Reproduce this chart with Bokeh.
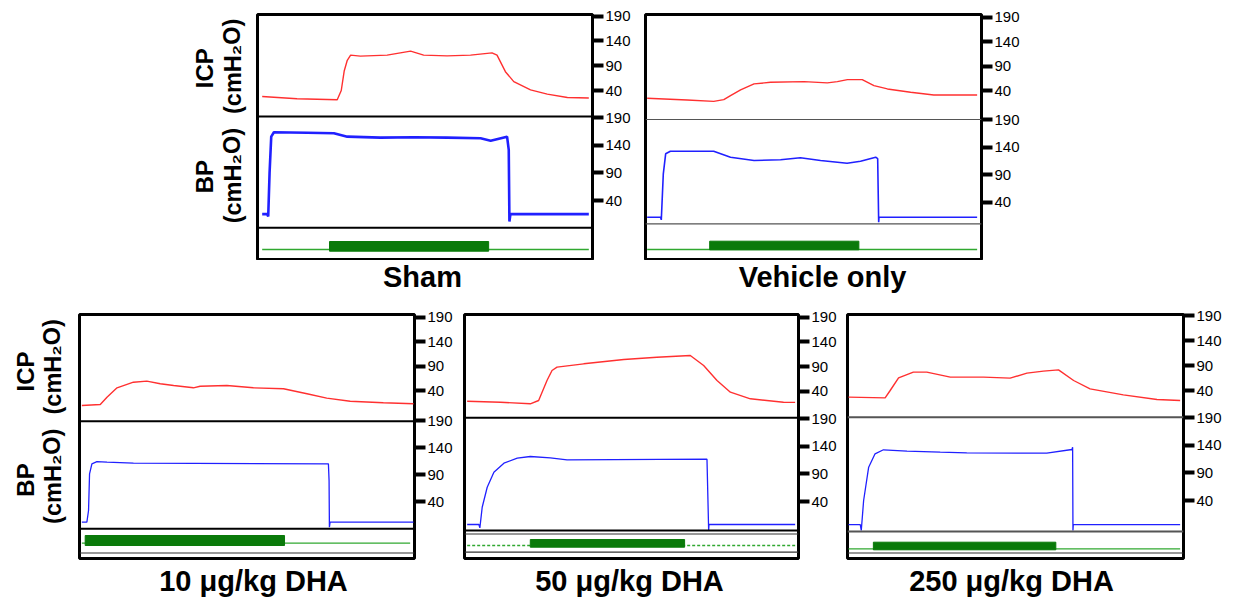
from bokeh.layouts import column, row
from bokeh.models import FixedTicker, LinearAxis, Range1d, Spacer, Span
from bokeh.core.properties import value
from bokeh.plotting import figure
from bokeh.embed import file_html
from bokeh.resources import INLINE

FONT = "Liberation Sans"
TICK_VALUES = [40, 90, 140, 190]
TITLES = ["Sham", "Vehicle only", "10 μg/kg DHA", "50 μg/kg DHA", "250 μg/kg DHA"]
YLABELS = ["ICP", "(cmH₂O)", "BP", "(cmH₂O)"]

# ---------------- data (time in % of recording, pressures in cmH2O) ----------------
sham_icp_t = [1.4, 11.8, 23.8, 25.0, 25.9, 26.8, 27.8, 30.7, 38.7, 45.7, 49.6, 56.6, 63.6, 70.0, 71.5, 74.0, 76.5, 81.5, 86.5, 92.5, 98.9]
sham_icp_v = [28, 23.4, 21.4, 40, 80, 101, 111.4, 109.4, 111.4, 119.4, 111.4, 110, 111.4, 116, 111.4, 78, 58, 41.4, 32.8, 26, 24.8]
sham_bp_t = [1.4, 2.9, 3.2, 3.6, 4.1, 4.9, 14.8, 22.8, 26.8, 36.7, 46.7, 56.6, 66.6, 69.6, 74.5, 75.0, 75.2, 75.5, 98.9]
sham_bp_v = [15.3, 15.3, 11, 89.5, 155.8, 163.8, 163, 162, 155.8, 154, 154.7, 154, 152.9, 148.5, 155.8, 131.7, 2, 15.3, 15.3]

veh_icp_t = [0.5, 12.4, 20.3, 23.3, 25.3, 28.3, 32.3, 37.2, 47.2, 54.1, 57.1, 60.1, 64.5, 68.0, 72.0, 78.9, 85.8, 98.7]
veh_icp_v = [24, 20.7, 17.8, 21.3, 29.5, 41.2, 53.5, 56.8, 58.2, 55.5, 58.2, 62.3, 62.3, 50, 43.2, 36.3, 30.9, 30.9]
veh_bp_t = [0.5, 4.5, 4.7, 5.3, 6.0, 7.4, 20.3, 25.3, 32.3, 40.2, 46.1, 52.1, 60.0, 64.0, 68.5, 69.1, 69.4, 69.5, 98.7]
veh_bp_v = [12.8, 12.8, 8, 91.5, 127.8, 132.5, 132.5, 121.6, 115.6, 116.9, 120.5, 115.6, 110.7, 114.4, 121.6, 119, 3.7, 12.8, 12.8]

d10_icp_t = [0.7, 6.2, 8.2, 11.2, 16.1, 20.1, 24.1, 28.1, 34.0, 36.0, 44.0, 51.9, 60.9, 67.9, 73.8, 80.8, 90.7, 99.7]
d10_icp_v = [9.3, 11.4, 26.3, 45.5, 57, 59.1, 53.7, 50.3, 45.5, 48.8, 50.3, 45.5, 43.5, 33.3, 24.3, 18.1, 14.9, 12.8]
d10_bp_t = [0.7, 2.2, 2.7, 3.0, 3.7, 5.2, 8.2, 16.1, 74.3, 74.5, 74.6, 74.8, 99.7]
d10_bp_v = [1.7, 1.7, 23.3, 91.3, 109.8, 114, 112.8, 110.9, 109.8, 78.9, -7.6, 1.7, 1.7]

d50_icp_t = [0.8, 10.8, 19.7, 22.2, 24.7, 26.2, 27.7, 35.7, 47.7, 57.6, 67.6, 71.6, 75.6, 79.6, 85.6, 95.5, 99.0]
d50_icp_v = [19.7, 17.7, 14.5, 21.2, 61.7, 82, 88.7, 95.5, 104.3, 108.9, 112.4, 92.1, 61.7, 38, 24.6, 17.7, 17.3]
d50_bp_t = [0.8, 4.3, 4.6, 5.3, 6.8, 8.8, 11.8, 15.8, 19.7, 25.7, 30.7, 72.6, 73.1, 73.2, 99.0]
d50_bp_v = [-1.7, -1.7, -7.8, 29.6, 65.9, 93.1, 109.5, 118.5, 121.6, 119.3, 115.6, 116.7, -12.6, -1.7, -1.7]

d250_icp_t = [0.3, 11.2, 12.7, 15.2, 19.6, 23.6, 30.6, 40.5, 48.4, 53.4, 58.3, 62.8, 67.3, 72.2, 82.1, 92.1, 99.0]
d250_icp_v = [26.7, 25.3, 40, 65.3, 76.7, 76.7, 66.7, 66.7, 64.7, 74.7, 78.7, 81.3, 60, 43.3, 31.3, 22, 20]
d250_bp_t = [0.3, 3.8, 4.1, 4.8, 6.3, 8.2, 10.7, 17.7, 27.6, 35.5, 51.4, 59.3, 66.8, 67.0, 67.1, 67.2, 99.0]
d250_bp_v = [-3.6, -3.6, -14.4, 40, 100.4, 124.7, 132, 129.4, 127.6, 126.5, 125.8, 125.8, 132.5, 136.7, -14.4, -3.6, -3.6]

# stimulation: on, off (time), band low / high (a.u. relative to baseline), baseline start / end
stim_on = [21.5, 19.1, 1.7, 19.7, 7.7]
stim_off = [69.0, 63.5, 61.2, 65.9, 62.0]
stim_lo = [-1.7, -0.3, -2.3, -1.7, -1.0]
stim_hi = [8.0, 8.3, 7.7, 6.0, 6.6]
base_t0 = [1.4, 0.5, 0.7, 0.8, 0.3]
base_t1 = [98.9, 98.7, 98.7, 99.0, 99.0]

ICP_T = [sham_icp_t, veh_icp_t, d10_icp_t, d50_icp_t, d250_icp_t]
ICP_V = [sham_icp_v, veh_icp_v, d10_icp_v, d50_icp_v, d250_icp_v]
BP_T = [sham_bp_t, veh_bp_t, d10_bp_t, d50_bp_t, d250_bp_t]
BP_V = [sham_bp_v, veh_bp_v, d10_bp_v, d50_bp_v, d250_bp_v]

# ---------------- layout geometry (page pixels) ----------------
GEOM = [
    dict(L=257, R=592, T=14, B=259, bl=7, br=42, bt=14, bb=1, icp190=15.7, icp40=90.0, bp190=117.3, bp40=200.0,
         div=[116, 227.3], div_color="black", div_w=2, gbase=249, extra=[], bp_w=2.6, base_dash="solid"),
    dict(L=645, R=981, T=14, B=259, bl=11, br=42, bt=14, bb=1, icp190=16.7, icp40=90.0, bp190=119.0, bp40=201.7,
         div=[119, 223.3], div_color="#555555", div_w=1.2, gbase=249, extra=[], bp_w=1.6, base_dash="solid"),
    dict(L=79, R=414, T=314, B=558, bl=8, br=42, bt=14, bb=3, icp190=316.7, icp40=390.0, bp190=420.0, bp40=501.0,
         div=[420.7, 528.3], div_color="black", div_w=2, gbase=542.7, extra=[552.5], bp_w=1.3, base_dash="solid"),
    dict(L=464, R=798, T=314, B=558, bl=8, br=42, bt=14, bb=3, icp190=316.7, icp40=390.7, bp190=418.3, bp40=501.0,
         div=[417.3, 530], div_color="black", div_w=2, gbase=545, extra=[533.5, 551.7], bp_w=1.3, base_dash="3 2"),
    dict(L=847, R=1183, T=314, B=558, bl=7, br=42, bt=14, bb=3, icp190=315.0, icp40=390.0, bp190=417.3, bp40=500.0,
         div=[416.7, 531], div_color="#555555", div_w=2, gbase=548.3, extra=[552.5], bp_w=1.3, base_dash="solid"),
]
# title text anchors (page px, includes the renderer's ~11px baseline drop)
TITLE_X = [422, 822, 253, 629, 1011]
TITLE_Y = [276, 276, 580, 580, 580]
# y-label anchors (page px) for the two labelled rows
YLAB_X = [[204, 232, 204, 232], [25, 52, 25, 52]]
YLAB_Y = [[57, 55, 172, 171], [361, 356, 477, 473]]
YLAB_SIZE = ["24px", "23.5px", "24px", "23.5px"]


def scale_range(y190, y40, T, B):
    s = 150.0 / (y40 - y190)
    return 190 - s * (B - y190), 190 + s * (y190 - T)


def build(i):
    g = GEOM[i]
    fw, fh = g["R"] - g["L"], g["B"] - g["T"]
    icp_lo, icp_hi = scale_range(g["icp190"], g["icp40"], g["T"], g["B"])
    bp_lo, bp_hi = scale_range(g["bp190"], g["bp40"], g["T"], g["B"])
    p = figure(title=None, title_location=None, width=g["bl"] + fw + g["br"], height=g["bt"] + fh + g["bb"],
               output_backend="svg", toolbar_location=None, x_range=Range1d(0, 100),
               y_range=Range1d(icp_lo, icp_hi), x_axis_location=None, y_axis_location=None,
               min_border_left=g["bl"], min_border_right=g["br"], min_border_top=g["bt"], min_border_bottom=g["bb"])
    p.grid.visible = False
    p.outline_line_color = "black"
    p.outline_line_width = 3
    p.extra_y_ranges = {
        "bp": Range1d(bp_lo, bp_hi),
        "px": Range1d(g["B"], g["T"]),
        "stim": Range1d(g["gbase"] - g["B"], g["gbase"] - g["T"]),
    }
    for d in g["div"]:
        p.add_layout(Span(location=d, dimension="width", y_range_name="px",
                          line_color=g["div_color"], line_width=g["div_w"]))
    for d in g["extra"]:
        p.add_layout(Span(location=d, dimension="width", y_range_name="px",
                          line_color="#333333", line_width=1.2))
    p.line(ICP_T[i], ICP_V[i], line_color="#ff3030", line_width=1.4)
    p.line(BP_T[i], BP_V[i], y_range_name="bp", line_color="#2020ff", line_width=g["bp_w"])
    p.line([base_t0[i], base_t1[i]], [0, 0], y_range_name="stim", line_color="#30a830",
           line_width=1.3, line_dash=g["base_dash"])
    p.quad(left=[stim_on[i]], right=[stim_off[i]], bottom=[stim_lo[i]], top=[stim_hi[i]],
           y_range_name="stim", fill_color="#0a7a0a", line_color="#0a7a0a", line_width=1)
    s_icp = (g["icp40"] - g["icp190"]) / 150.0
    s_bp = (g["bp40"] - g["bp190"]) / 150.0
    ticks, over = [], {}
    for v in TICK_VALUES:
        for base, s in ((g["icp190"], s_icp), (g["bp190"], s_bp)):
            y = round(base + (190 - v) * s, 2)
            ticks.append(y)
            over[y] = str(v)
    ax = LinearAxis(y_range_name="px", ticker=FixedTicker(ticks=sorted(ticks)), major_label_overrides=over)
    ax.axis_line_color = None
    ax.major_tick_in = 0
    ax.major_tick_out = 11
    ax.major_tick_line_width = 4
    ax.major_tick_line_color = "black"
    ax.minor_tick_line_color = None
    ax.major_label_standoff = 2
    ax.major_label_text_font = FONT
    ax.major_label_text_font_size = "15px"
    ax.major_label_text_color = "black"
    p.add_layout(ax, "right")
    return p


def text_fig(x0, x1, y0, y1, xs, ys, texts, sizes, angle=0.0, baseline="middle"):
    f = figure(title=None, title_location=None, width=x1 - x0, height=y1 - y0, output_backend="svg",
               toolbar_location=None, x_range=Range1d(x0, x1), y_range=Range1d(-y1, -y0),
               x_axis_location=None, y_axis_location=None,
               min_border_left=0, min_border_right=0, min_border_top=0, min_border_bottom=0)
    f.grid.visible = False
    f.outline_line_color = None
    f.text(x=xs, y=[-y for y in ys], text=texts, text_font=value(FONT), text_font_size=sizes,
           text_font_style="bold", text_align="center", text_baseline=baseline, angle=angle,
           text_color="black")
    return f


figs = [build(i) for i in range(5)]

ylab_top = text_fig(182, 250, 0, 260, YLAB_X[0], YLAB_Y[0], YLABELS, YLAB_SIZE, angle=1.5708)
ylab_bot = text_fig(0, 71, 300, 561, YLAB_X[1], YLAB_Y[1], YLABELS, YLAB_SIZE, angle=1.5708)
titles_top = text_fig(0, 1240, 260, 300, TITLE_X[:2], TITLE_Y[:2], TITLES[:2], ["29px"] * 2, baseline="alphabetic")
titles_bot = text_fig(0, 1240, 561, 598, TITLE_X[2:], TITLE_Y[2:], TITLES[2:], ["29px"] * 3, baseline="alphabetic")

layout = column(
    row(Spacer(width=182, height=260), ylab_top, figs[0], figs[1]),
    titles_top,
    row(ylab_bot, figs[2], figs[3], figs[4]),
    titles_bot,
)

open("out.html", "w").write(file_html(layout, INLINE))
